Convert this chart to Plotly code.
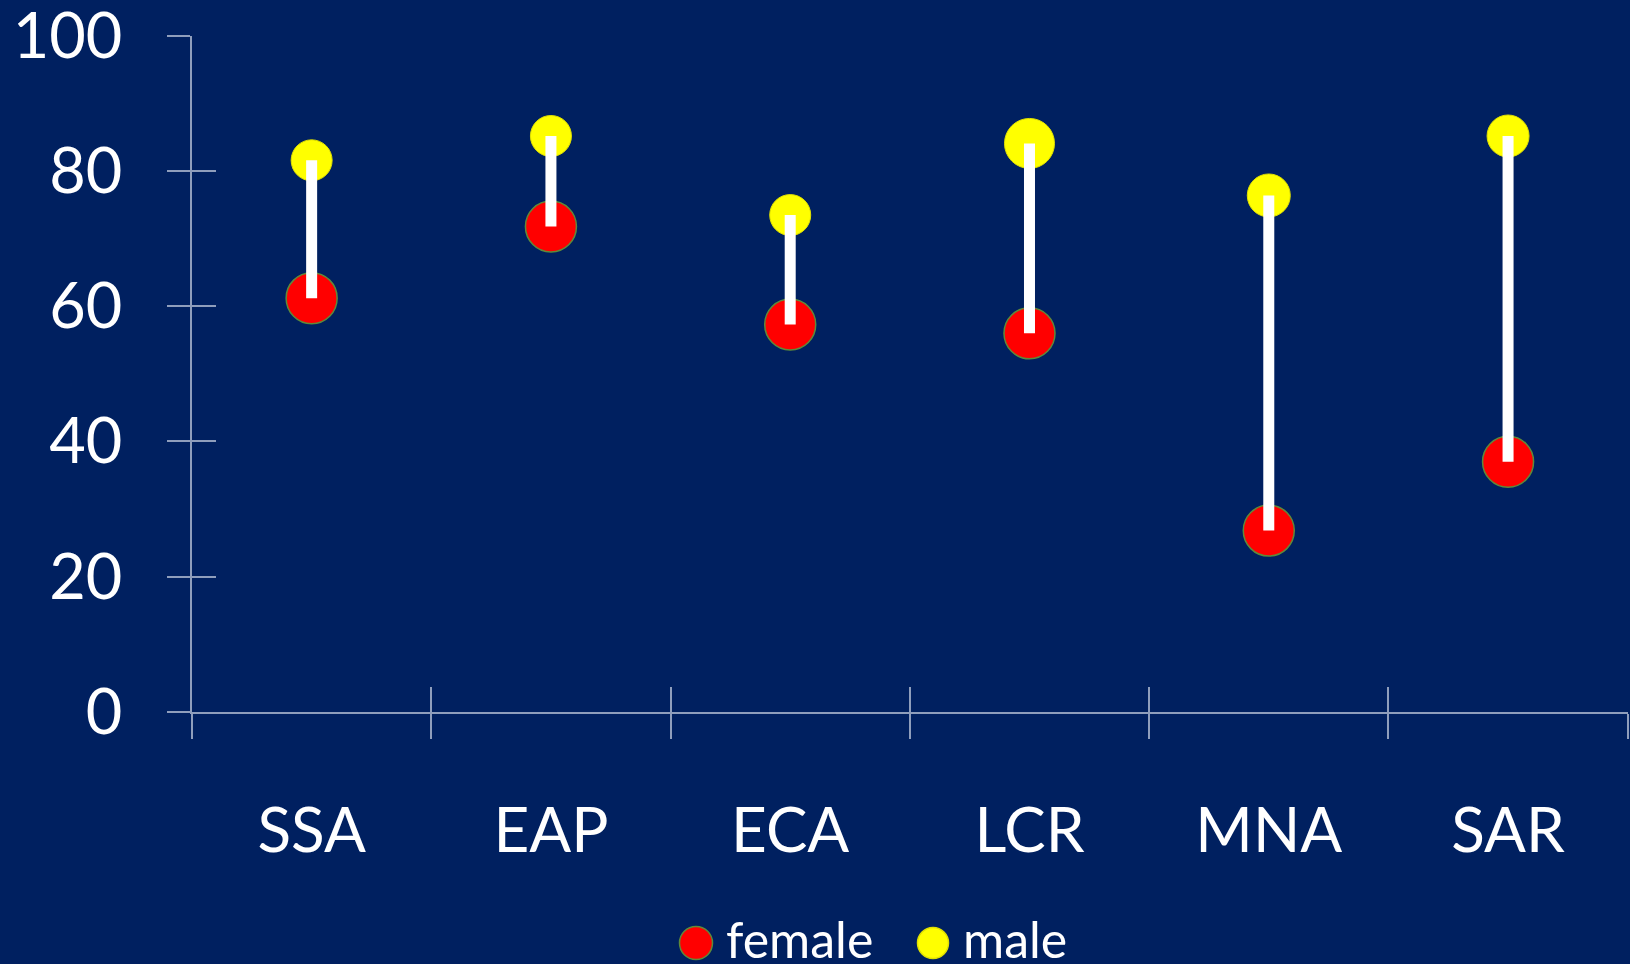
import plotly.graph_objects as go

# Regional values (percent)
regions = ["SSA", "EAP", "ECA", "LCR", "MNA", "SAR"]
male = [81.6, 85.2, 73.5, 84.1, 76.4, 85.2]
female = [61.2, 71.8, 57.3, 56.0, 26.8, 37.0]
y_ticks = [0, 20, 40, 60, 80, 100]
legend_labels = ["female", "male"]

# Figure geometry (pixels)
W, H = 1630, 964
PLOT_L, PLOT_R = 192, 1627.7
PLOT_T, PLOT_B = 36, 711.7

BG = "#002060"
AXIS_COL = "rgba(230,235,245,0.62)"
FONT = "Lato"

male_sizes = [41, 41, 41, 50, 43, 42]
female_size = 51

fig = go.Figure()

fig.add_trace(go.Scatter(
    x=regions, y=female, mode="markers", name="female",
    marker=dict(color="#FF0000", size=female_size, opacity=1,
                line=dict(color="#5E8A3A", width=1.5)),
    showlegend=False, hoverinfo="skip",
))
fig.add_trace(go.Scatter(
    x=regions, y=male, mode="markers", name="male",
    marker=dict(color="#FFFF00", size=male_sizes, opacity=1,
                line=dict(color="#E0E000", width=1)),
    showlegend=False, hoverinfo="skip",
))

# White connectors between male and female values
seg_x, seg_y = [], []
for r, m, f in zip(regions, male, female):
    seg_x += [r, r, None]
    seg_y += [m, f, None]
fig.add_trace(go.Scatter(
    x=seg_x, y=seg_y, mode="lines",
    line=dict(color="white", width=11),
    showlegend=False, hoverinfo="skip", connectgaps=False,
))

# Empty trace holding the overlay axes used for the inner half of the ticks
fig.add_trace(go.Scatter(x=[], y=[], xaxis="x2", yaxis="y2",
                         showlegend=False, hoverinfo="skip"))

# Custom legend drawn on a full-figure pixel axis
leg_x = [696, 933]
leg_y = [943, 943]
fig.add_trace(go.Scatter(
    x=leg_x, y=leg_y, xaxis="x3", yaxis="y3", mode="markers",
    marker=dict(color=["#FF0000", "#FFFF00"], size=[33, 31], opacity=1,
                line=dict(color=["#5E8A3A", "#E0E000"], width=1.5)),
    showlegend=False, hoverinfo="skip",
))
for lx, ly, txt in zip(leg_x, leg_y, legend_labels):
    fig.add_annotation(x=lx + 28, y=ly - 4, xref="x3", yref="y3", text=txt,
                       showarrow=False, xanchor="left", yanchor="middle",
                       font=dict(family=FONT, size=50, color="white"))

xdom = [PLOT_L / W, PLOT_R / W]
ydom = [(H - PLOT_B) / H, (H - PLOT_T) / H]

fig.update_layout(
    width=W, height=H,
    margin=dict(l=0, r=0, t=0, b=0),
    paper_bgcolor=BG, plot_bgcolor="rgba(0,0,0,0)",
    showlegend=False,
    font=dict(family=FONT, color="white"),
    xaxis=dict(
        domain=xdom, type="category", categoryorder="array",
        categoryarray=regions, range=[-0.5, len(regions) - 0.5],
        tickson="boundaries", ticks="outside", ticklen=25, tickwidth=2,
        tickcolor=AXIS_COL, showline=True, linecolor=AXIS_COL, linewidth=2,
        showgrid=False, zeroline=False, automargin=False,
        tickfont=dict(family=FONT, size=62, color="white"),
        ticklabelstandoff=64, ticklabeloverflow="allow", fixedrange=True,
    ),
    yaxis=dict(
        domain=ydom, range=[0, 100], tickvals=y_ticks,
        ticks="outside", ticklen=23, tickwidth=2, tickcolor=AXIS_COL,
        showline=True, linecolor=AXIS_COL, linewidth=2,
        showgrid=False, zeroline=False, automargin=False,
        tickfont=dict(family=FONT, size=63, color="white"),
        ticklabelstandoff=32, ticklabeloverflow="allow", fixedrange=True,
    ),
    xaxis2=dict(
        overlaying="x", anchor="y", range=[-0.5, len(regions) - 0.5],
        tickvals=[i - 0.5 for i in range(len(regions) + 1)],
        ticks="inside", ticklen=25, tickwidth=2, tickcolor=AXIS_COL,
        showticklabels=False, showline=False, showgrid=False,
        zeroline=False, automargin=False, fixedrange=True,
    ),
    yaxis2=dict(
        overlaying="y", anchor="x", range=[0, 100], tickvals=y_ticks,
        ticks="inside", ticklen=24, tickwidth=2, tickcolor=AXIS_COL,
        showticklabels=False, showline=False, showgrid=False,
        zeroline=False, automargin=False, fixedrange=True,
    ),
    xaxis3=dict(domain=[0, 1], range=[0, W], visible=False,
                anchor="y3", fixedrange=True),
    yaxis3=dict(domain=[0, 1], range=[H, 0], visible=False,
                anchor="x3", fixedrange=True),
)

fig.write_html("out.html", config={"displayModeBar": False})
